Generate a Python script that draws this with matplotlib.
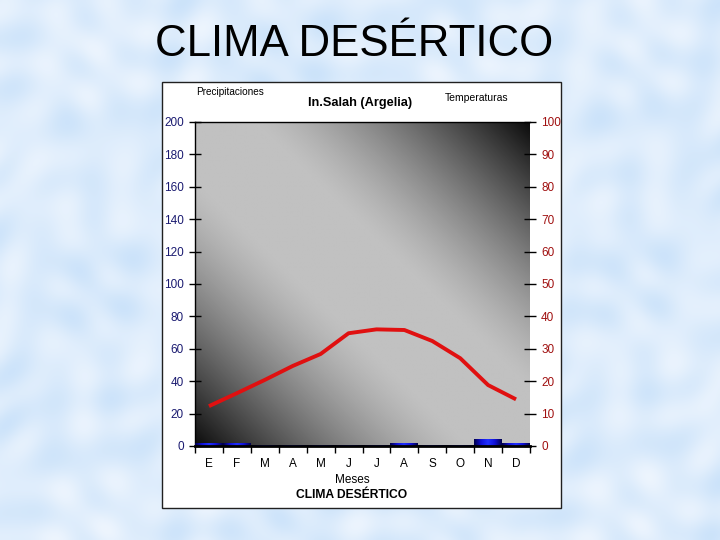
import numpy as np
import matplotlib
matplotlib.use("Agg")
import matplotlib.pyplot as plt
from matplotlib.patches import Rectangle
from matplotlib.colors import LinearSegmentedColormap

# ---------------- data ----------------
months = ["E", "F", "M", "A", "M", "J", "J", "A", "S", "O", "N", "D"]
precip_mm = [2, 2, 0.4, 0.4, 0.4, 0.4, 0.4, 2, 0.4, 0.4, 4.3, 2]
temp_c = [12.3, 16.3, 20.4, 24.7, 28.4, 34.8, 36.0, 35.8, 32.4, 27.1, 18.8, 14.4]
precip_ticks = [0, 20, 40, 60, 80, 100, 120, 140, 160, 180, 200]
temp_ticks = [0, 10, 20, 30, 40, 50, 60, 70, 80, 90, 100]

FONT = "Liberation Sans"
plt.rcParams["font.family"] = [FONT, "DejaVu Sans"]

W, H = 720, 540
fig = plt.figure(figsize=(W / 100, H / 100), dpi=100)

# ---------------- slide background (soft light-blue texture) ----------------
bg = fig.add_axes([0, 0, 1, 1], zorder=-10)
yy, xx = np.mgrid[0:H:2, 0:W:2].astype(float)
tex = (np.sin(xx / 21.0 + np.cos(yy / 37.0) * 2.1) * np.cos(yy / 15.0 + np.sin(xx / 29.0) * 1.7)
       + 0.6 * np.sin((xx + yy) / 13.0) * np.cos((xx - yy) / 19.0))
tex = (tex - tex.min()) / (tex.max() - tex.min())
c_lo = np.array([0.80, 0.89, 0.98])
c_hi = np.array([0.93, 0.96, 0.995])
img = c_lo[None, None, :] + (c_hi - c_lo)[None, None, :] * tex[..., None]
bg.imshow(img, extent=(0, W, H, 0), aspect="auto", interpolation="bilinear")
bg.set_xlim(0, W)
bg.set_ylim(H, 0)
bg.axis("off")

# slide title
fig.text(354 / W, 1 - 45 / H, "CLIMA DESÉRTICO", fontsize=31.5, ha="center", va="center",
         color="black")

# white chart panel
panel = Rectangle((162 / W, 1 - 508 / H), (561 - 162) / W, (508 - 82) / H,
                  transform=fig.transFigure, facecolor="white", edgecolor="#202020",
                  linewidth=1.0, zorder=-5)
fig.patches.append(panel)

# ---------------- plot axes ----------------
L, R, T, B = 195, 530, 122, 446
ax = fig.add_axes([L / W, 1 - B / H, (R - L) / W, (B - T) / H])
ax.set_zorder(1)
x = np.arange(len(months))

# diagonal grey gradient background (dark bottom-left and top-right corners)
gy, gx = np.mgrid[0:1:400j, 0:1:400j]
d = np.abs(gx + gy - 1.0)
ramp = np.clip((d - 0.18) / 0.82, 0, 1) ** 1.35
val = 0.755 - 0.71 * ramp
ax.imshow(val, extent=(-0.5, 11.5, 0, 200), origin="lower", cmap="gray", vmin=0, vmax=1,
          aspect="auto", zorder=0, interpolation="bilinear")

# bars with horizontal blue gradient
bars = ax.bar(x, precip_mm, width=1.0, color="#0a0a90", edgecolor="none", zorder=2)
bcmap = LinearSegmentedColormap.from_list("b", ["#00004a", "#1010d8", "#2030ff", "#1010d8", "#00004a"])
grad = np.linspace(0, 1, 64)[None, :]
for b in bars:
    x0, w, h = b.get_x(), b.get_width(), b.get_height()
    im = ax.imshow(grad, extent=(x0, x0 + w, 0, h), cmap=bcmap, aspect="auto", zorder=3,
                   interpolation="bilinear")
    im.set_clip_path(b)

ax.set_xlim(-0.5, 11.5)
ax.set_ylim(0, 200)

ax.spines["right"].set_visible(False)
ax.spines["top"].set_color("black")
ax.spines["top"].set_linewidth(1.0)
ax.spines["left"].set_color("black")
ax.spines["left"].set_linewidth(1.0)
ax.spines["bottom"].set_color("black")
ax.spines["bottom"].set_linewidth(2.0)
ax.spines["bottom"].set_zorder(4)

ax.set_yticks(precip_ticks)
ax.set_yticklabels([str(t) for t in precip_ticks])
ax.tick_params(axis="y", direction="inout", length=8, width=1, colors="black",
               labelcolor="#1a1a70", labelsize=8.5, pad=4)
ax.set_xticks(np.arange(-0.5, 12, 1.0))
ax.set_xticklabels([])
ax.tick_params(axis="x", direction="out", length=5, width=1, color="black")
ax.set_xticks(x, minor=True)
ax.set_xticklabels(months, minor=True)
ax.tick_params(axis="x", which="minor", length=0, labelsize=8.5, pad=8.5, labelcolor="black")

# temperature axis
ax2 = ax.twinx()
ax2.set_zorder(2)
ax2.patch.set_visible(False)
ax2.plot(x, temp_c, color="#e01010", linewidth=2.8, solid_capstyle="butt", zorder=5)
ax2.set_ylim(0, 100)
ax2.set_xlim(-0.5, 11.5)
for s in ["top", "left", "bottom", "right"]:
    ax2.spines[s].set_visible(False)
ax2.set_yticks(temp_ticks)
ax2.set_yticklabels([str(t) for t in temp_ticks])
ax2.tick_params(axis="y", direction="inout", length=8, width=1, colors="black",
                labelcolor="#a01010", labelsize=8.5, pad=4)

# chart texts
fig.text(196 / W, 1 - 92 / H, "Precipitaciones", fontsize=7.2, ha="left", va="center")
fig.text(360 / W, 1 - 103 / H, "In.Salah (Argelia)", fontsize=9.2, fontweight="bold",
         ha="center", va="center")
fig.text(445 / W, 1 - 98 / H, "Temperaturas", fontsize=7.5, ha="left", va="center")
fig.text(352 / W, 1 - 480 / H, "Meses", fontsize=8.5, ha="center", va="center")
fig.text(352 / W, 1 - 495 / H, "CLIMA DESÉRTICO", fontsize=8.7, fontweight="bold",
         ha="center", va="center")

fig.savefig("out.png", dpi=100)
